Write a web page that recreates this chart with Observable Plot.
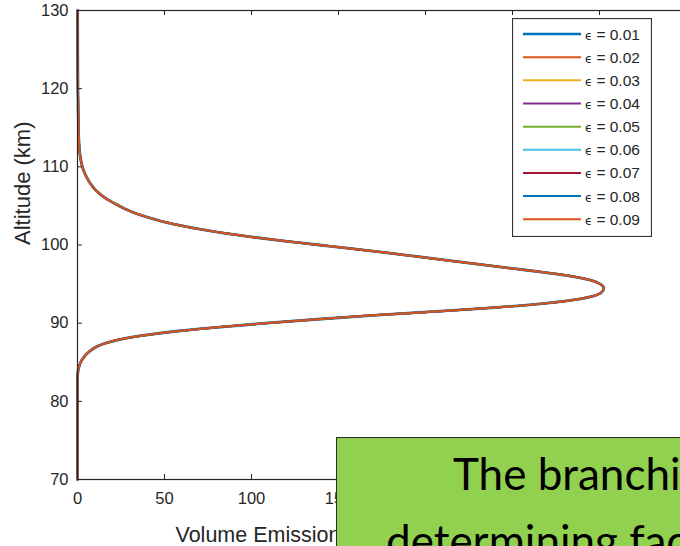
<!DOCTYPE html>
<html>
<head>
<meta charset="utf-8">
<script src="https://cdn.jsdelivr.net/npm/d3@7"></script>
<script src="https://cdn.jsdelivr.net/npm/@observablehq/plot@0.6"></script>
<style>
  html, body { margin: 0; padding: 0; background: #fff; overflow: hidden; }
  #wrap { position: relative; width: 680px; height: 546px; overflow: hidden; }
  #chart { position: absolute; left: 0; top: 0; width: 700px; }
  #chart svg { max-width: none !important; }
  #legend { position: absolute; left: 512px; top: 18px; }
  #note {
    position: absolute; left: 336px; top: 437px; width: 420px; height: 160px;
    background: #92D050; border: 1.6px solid #2a2a2a; box-sizing: border-box;
    font-family: Lato, "Open Sans", sans-serif; color: #000;
  }
  #note span { position: absolute; white-space: nowrap; font-size: 44px; line-height: 1; }
</style>
</head>
<body>
<div id="wrap">
  <div id="chart"></div>
  <div id="legend"></div>
  <div id="note">
    <span style="left:116px; top:13px;">The branching ratio is not a</span>
    <span style="left:49px; top:80px;">determining factor</span>
  </div>
</div>
<script>
// Branching-ratio values, one curve each
const epsilons = [0.01, 0.02, 0.03, 0.04, 0.05, 0.06, 0.07, 0.08, 0.09];
const seriesColors = ["#0072BD", "#D95319", "#EDB120", "#7E2F8E", "#77AC30",
                      "#4DBEEE", "#A2142F", "#0072BD", "#D95319"];

// Volume emission rate profile (all nine ε curves coincide)
const altitude = [70, 80, 83, 84, 84.5, 85, 85.5, 86, 86.5, 87, 87.5, 88, 88.5, 89, 89.5,
  90, 90.5, 91, 91.5, 92, 92.5, 93, 93.5, 94, 94.5, 95, 95.5, 96, 96.5, 97, 97.5,
  98, 98.5, 99, 99.5, 100, 100.5, 101, 101.5, 102, 102.5, 103, 103.5, 104, 104.5,
  105, 106, 107, 108, 109, 110, 111, 112, 114, 117, 120, 125, 130];
const emission = [0, 0, 0.05, 0.4, 1.0, 1.8, 3.2, 5.0, 7.5, 11, 17, 26, 40, 58, 82,
  108, 138, 170, 206, 240, 267, 286, 297, 301.5, 302.5, 300.5, 295, 284, 268, 250, 232,
  214, 196, 178, 159, 139, 119, 101, 85, 71, 59, 49, 41, 34, 28.5,
  24, 16, 10.5, 7, 4.5, 2.8, 1.8, 1.2, 0.7, 0.4, 0.25, 0.15, 0.1];

const xTicks = [0, 50, 100, 150, 200, 250, 300, 350];
const xTickLabels = [0, 50, 100, 150];
const yTicks = [70, 80, 90, 100, 110, 120, 130];
const xLabel = "Volume Emission Rate (photons cm\u207B\u00B3 s\u207B\u00B9)";
const yLabel = "Altitude (km)";

const W = 700, H = 546;
const mL = 77, mR = 14, mT = 10, mB = 67;
const innerW = W - mL - mR, innerH = H - mT - mB;
const ink = "#262626";
const font = "'Liberation Sans', Arial, Helvetica, sans-serif";

const profile = altitude.map((a, j) => ({alt: a, ver: emission[j]}));

const chart = Plot.plot({
  width: W, height: H,
  marginLeft: mL, marginRight: mR, marginTop: mT, marginBottom: mB,
  style: {fontFamily: font, fontSize: "16px", color: ink, background: "transparent",
          overflow: "visible", maxWidth: "none"},
  x: {domain: [0, 350]},
  y: {domain: [70, 130]},
  marks: [
    ...epsilons.map((e, i) => Plot.line(profile, {
      x: "ver", y: "alt", stroke: seriesColors[i],
      strokeWidth: i === 0 ? 2.8 : 2, curve: "monotone-y"
    })),
    Plot.frame({stroke: ink, strokeWidth: 1.2}),
    Plot.axisX(xTickLabels, {anchor: "bottom", tickSize: 0, tickPadding: 13, label: null, fontSize: 16.5, fill: ink}),
    Plot.axisY(yTicks, {anchor: "left", tickSize: 0, tickPadding: 9, label: null, fontSize: 16.5, fill: ink}),
    // inward-pointing tick marks on all four sides
    Plot.tickX(xTicks, {x: d => d, insetTop: innerH - 5, stroke: ink}),
    Plot.tickX(xTicks, {x: d => d, insetBottom: innerH - 5, stroke: ink}),
    Plot.tickY(yTicks, {y: d => d, insetRight: innerW - 5, stroke: ink}),
    Plot.tickY(yTicks, {y: d => d, insetLeft: innerW - 5, stroke: ink}),
    Plot.text([xLabel], {frameAnchor: "bottom-left", dx: 98, dy: 62, textAnchor: "start",
      lineAnchor: "bottom", fontSize: 21.5, fill: ink}),
    Plot.text([yLabel], {frameAnchor: "left", dx: -55, rotate: -90, fontSize: 22, fill: ink})
  ]
});
document.getElementById("chart").append(chart);

// Legend box
const lw = 140, lh = 219;
const lg = d3.select("#legend").append("svg").attr("width", lw).attr("height", lh)
  .style("font-family", font);
lg.append("rect").attr("x", 0.5).attr("y", 0.5).attr("width", lw - 1).attr("height", lh - 1)
  .attr("fill", "#fff").attr("stroke", "#333").attr("stroke-width", 1.2);
const row = lg.selectAll("g").data(epsilons).join("g")
  .attr("transform", (d, i) => `translate(0,${16 + i * 23.16})`);
row.append("line").attr("x1", 11).attr("x2", 69).attr("y1", 0).attr("y2", 0)
  .attr("stroke", (d, i) => seriesColors[i]).attr("stroke-width", (d, i) => i === 0 ? 2.6 : 2);
const t = row.append("text").attr("x", 73).attr("y", 5.5).attr("fill", ink);
t.append("tspan").attr("font-family", "'DejaVu Sans', sans-serif").attr("font-size", 12).text("\u03F5");
t.append("tspan").attr("font-size", 15.5).attr("dx", 4).text(d => `= ${d.toFixed(2)}`);
</script>
</body>
</html>
